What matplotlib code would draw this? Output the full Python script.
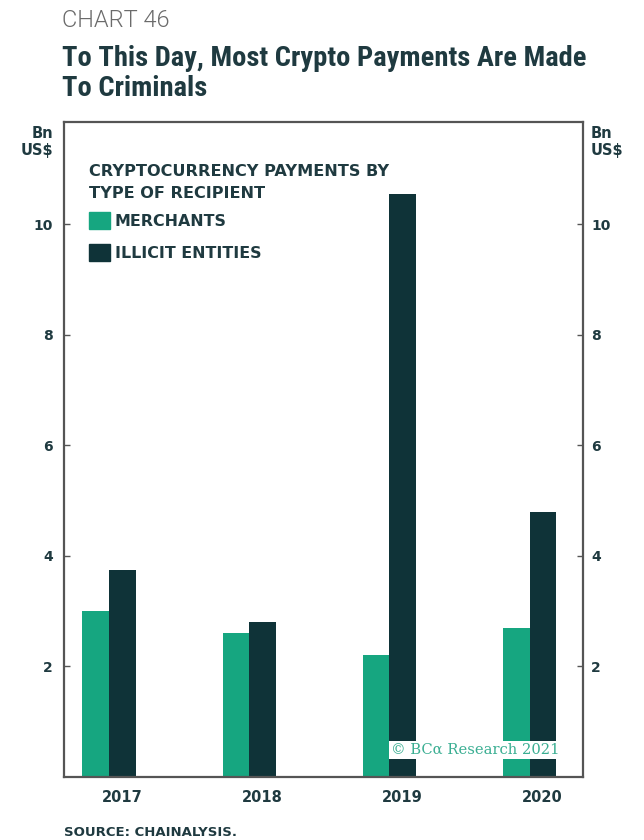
import matplotlib
matplotlib.use("Agg")
import matplotlib.pyplot as plt
from matplotlib.patches import Rectangle
from matplotlib.transforms import ScaledTranslation
import numpy as np

# Cryptocurrency payments by recipient type, Bn US$
years = ["2017", "2018", "2019", "2020"]
merchants = [3.0, 2.6, 2.2, 2.7]
illicit = [3.75, 2.8, 10.55, 4.8]
yticks = [2, 4, 6, 8, 10]

GREEN = "#16a680"
DARK = "#0f3338"
TEXT = "#1f3a40"
GRAY = "#6b6b6b"

fig = plt.figure(figsize=(6.44, 8.4), dpi=100)
W, H = 644, 840

ax = fig.add_axes([64 / W, 1 - 777 / H, (583 - 64) / W, (777 - 122) / H])

x = np.arange(len(years))
bw = 0.19
ax.bar(x - bw / 2, merchants, width=bw, color=GREEN, zorder=2)
ax.bar(x + bw / 2, illicit, width=bw, color=DARK, zorder=2)

ax.set_xlim(-0.32, 3.38)
ax.set_ylim(0, 11.85)

for s in ax.spines.values():
    s.set_color("#555555")
    s.set_linewidth(1.6)

ax.set_yticks(yticks)
ax.set_yticklabels([str(v) for v in yticks])
ax.tick_params(axis="y", which="both", direction="in", length=4, width=1,
               color="#555555", labelsize=10, labelcolor=TEXT, pad=6,
               left=True, right=True, labelleft=True, labelright=True)
left_shift = ScaledTranslation(-3 / 100, 0, fig.dpi_scale_trans)
for t in ax.yaxis.get_major_ticks():
    t.label1.set_fontweight("bold")
    t.label2.set_fontweight("bold")
    t.label1.set_transform(t.label1.get_transform() + left_shift)

ax.set_xticks(x)
ax.set_xticklabels(years, fontsize=10.5, fontweight="bold", color=TEXT)
ax.tick_params(axis="x", length=0, pad=9)
shift = ScaledTranslation(13 / 100, 0, fig.dpi_scale_trans)
for lab in ax.get_xticklabels():
    lab.set_transform(lab.get_transform() + shift)

# unit labels on both sides
fig.text(53 / W, 1 - 142 / H, "Bn\nUS$", ha="right", va="center", fontsize=10.5,
         fontweight="bold", color=TEXT, linespacing=1.2)
fig.text(591 / W, 1 - 142 / H, "Bn\nUS$", ha="left", va="center", fontsize=10.5,
         fontweight="bold", color=TEXT, linespacing=1.2)

# legend block
fig.text(89 / W, 1 - 172 / H, "CRYPTOCURRENCY PAYMENTS BY", ha="left", va="center",
         fontsize=11.6, fontweight="bold", color=TEXT)
fig.text(89 / W, 1 - 194 / H, "TYPE OF RECIPIENT", ha="left", va="center",
         fontsize=11.6, fontweight="bold", color=TEXT)
for (yc, col, lab) in [(221, GREEN, "MERCHANTS"), (253, DARK, "ILLICIT ENTITIES")]:
    fig.patches.append(Rectangle((89 / W, 1 - (yc + 8) / H), 21 / W, 17 / H,
                                 transform=fig.transFigure, color=col))
    fig.text(115 / W, 1 - yc / H, lab, ha="left", va="center", fontsize=11.4,
             fontweight="bold", color=TEXT)

# watermark
ax.text(560 / W, 1 - 750 / H, "© BCα Research 2021", transform=fig.transFigure,
        ha="right", va="center", fontsize=10.6, family="DejaVu Serif",
        color="#3aae92", zorder=5,
        bbox=dict(facecolor="white", edgecolor="none", pad=1.5))

# headings
fig.text(62 / W, 1 - 20 / H, "CHART 46", ha="left", va="center", fontsize=17,
         color=GRAY, family="Roboto", fontweight=300)
fig.text(62 / W, 1 - 58 / H, "To This Day, Most Crypto Payments Are Made",
         ha="left", va="center", fontsize=20.5, fontweight="bold", color=TEXT,
         family="Roboto Condensed")
fig.text(62 / W, 1 - 89 / H, "To Criminals",
         ha="left", va="center", fontsize=20.5, fontweight="bold", color=TEXT,
         family="Roboto Condensed")

fig.text(64 / W, 1 - 832 / H, "SOURCE: CHAINALYSIS.", ha="left", va="center",
         fontsize=9.5, fontweight="bold", color=TEXT)

fig.savefig("out.png", dpi=100)
